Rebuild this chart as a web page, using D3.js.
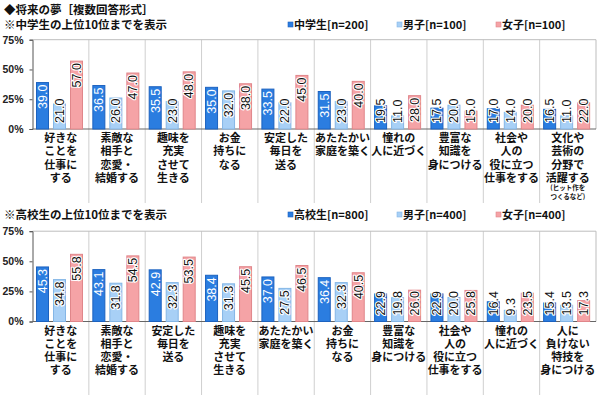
<!DOCTYPE html>
<html><head><meta charset="utf-8">
<script src="https://cdn.jsdelivr.net/npm/d3@7/dist/d3.min.js"></script>
<style>
body{margin:0;background:#fff;}
svg{display:block;}
</style></head>
<body><svg id="c" width="600" height="395"></svg>
<script>
const title = "◆将来の夢［複数回答形式］";
const subtitleJH = "※中学生の上位10位までを表示";
const subtitleHS = "※高校生の上位10位までを表示";
const ticks = [0, 25, 50, 75];
const seriesJH = ["中学生[n=200]", "男子[n=100]", "女子[n=100]"];
const seriesHS = ["高校生[n=800]", "男子[n=400]", "女子[n=400]"];
const colors = ["#2b7de0", "#a8d0f6", "#f5a3a6"];
const strokes = ["#1c62bf", "#84b6e6", "#e0868a"];

const catsJH = [
  ["好きな","ことを","仕事に","する"],
  ["素敵な","相手と","恋愛・","結婚する"],
  ["趣味を","充実","させて","生きる"],
  ["お金","持ちに","なる"],
  ["安定した","毎日を","送る"],
  ["あたたかい","家庭を築く"],
  ["憧れの","人に近づく"],
  ["豊富な","知識を","身につける"],
  ["社会や","人の","役に立つ","仕事をする"],
  ["文化や","芸術の","分野で","活躍する"]
];
const notesJH = [null,null,null,null,null,null,null,null,null,["(ヒット作を","つくるなど)"]];
const allJH   = [39.0, 36.5, 35.5, 35.0, 33.5, 31.5, 19.5, 17.5, 17.0, 16.5];
const boysJH  = [21.0, 26.0, 23.0, 32.0, 22.0, 23.0, 11.0, 20.0, 14.0, 11.0];
const girlsJH = [57.0, 47.0, 48.0, 38.0, 45.0, 40.0, 28.0, 15.0, 20.0, 22.0];

const catsHS = [
  ["好きな","ことを","仕事に","する"],
  ["素敵な","相手と","恋愛・","結婚する"],
  ["安定した","毎日を","送る"],
  ["趣味を","充実","させて","生きる"],
  ["あたたかい","家庭を築く"],
  ["お金","持ちに","なる"],
  ["豊富な","知識を","身につける"],
  ["社会や","人の","役に立つ","仕事をする"],
  ["憧れの","人に近づく"],
  ["人に","負けない","特技を","身につける"]
];
const notesHS = [null,null,null,null,null,null,null,null,null,null];
const allHS   = [45.3, 43.1, 42.9, 38.4, 37.0, 36.4, 22.9, 22.9, 16.4, 15.4];
const boysHS  = [34.8, 31.8, 32.3, 31.3, 27.5, 32.3, 19.8, 20.0, 9.3, 13.5];
const girlsHS = [55.8, 54.5, 53.5, 45.5, 46.5, 40.5, 26.0, 25.8, 23.5, 17.3];

const svg = d3.select("#c");
const jp = "'Noto Sans CJK JP', 'Noto Sans', sans-serif";
const num = "'Liberation Sans', Arial, sans-serif";

svg.append("text").attr("x",4).attr("y",14).attr("font-family",jp).attr("font-weight","bold")
  .attr("font-size",11.5).attr("fill","#111").text(title);

function drawChart(opt){
  const g = svg.append("g");
  const x = d3.scaleBand().domain(d3.range(opt.cats.length)).range([32.5, 596]).padding(0);
  const y = d3.scaleLinear().domain([0,75]).range([opt.base, opt.top]);
  const inner = d3.scaleBand().domain([0,1,2]).range([3.5, 50.5]).paddingInner(0.235);

  g.append("text").attr("x",4).attr("y",opt.subY+4).attr("font-family",jp).attr("font-weight","bold")
    .attr("font-size",11.5).attr("fill","#111").text(opt.subtitle);

  const lx = [288, 397, 496];
  opt.series.forEach((s,i)=>{
    g.append("rect").attr("x",lx[i]).attr("y",opt.subY-3).attr("width",5).attr("height",5)
      .attr("fill",colors[i]).attr("stroke",strokes[i]).attr("stroke-width",0.6);
    g.append("text").attr("x",lx[i]+6).attr("y",opt.subY+4).attr("font-family",jp).attr("font-weight","bold")
      .attr("font-size",11).attr("fill","#111").text(s);
  });

  d3.range(1, opt.cats.length).forEach(i=>{
    g.append("line").attr("x1",x(i)).attr("x2",x(i)).attr("y1",opt.top).attr("y2",opt.sepEnd)
      .attr("stroke","#cfcfcf").attr("stroke-width",1);
  });
  g.append("line").attr("x1",32.5).attr("x2",596).attr("y1",opt.top).attr("y2",opt.top).attr("stroke","#bdbdbd");
  g.append("line").attr("x1",596).attr("x2",596).attr("y1",opt.top).attr("y2",opt.base).attr("stroke","#bdbdbd");

  const ax = g.append("g").attr("transform","translate(32.5,0)")
    .call(d3.axisLeft(y).tickValues(ticks).tickSize(3).tickFormat(d=>d+"%"));
  ax.select(".domain").attr("stroke","#555");
  ax.selectAll(".tick line").attr("stroke","#555");
  ax.selectAll(".tick text").attr("font-family",num).attr("font-weight","bold").attr("font-size",10.5)
    .attr("fill","#222").attr("x",-9);
  g.append("line").attr("x1",32.5).attr("x2",596).attr("y1",opt.base).attr("y2",opt.base).attr("stroke","#666");

  const vals = [opt.a, opt.b, opt.c];
  vals.forEach((arr, si)=>{
    arr.forEach((v, ci)=>{
      const bx = x(ci) + inner(si);
      const bw = inner.bandwidth();
      g.append("rect").attr("x",bx+0.5).attr("y",y(v)).attr("width",bw-1).attr("height",opt.base-y(v))
        .attr("fill",colors[si]).attr("stroke",strokes[si]).attr("stroke-width",1);
    });
  });
  vals.forEach((arr, si)=>{
    arr.forEach((v, ci)=>{
      const bx = x(ci) + inner(si) + inner.bandwidth()/2;
      const t = g.append("text").attr("font-family",num).attr("font-size",12.5)
        .attr("text-anchor","start").text(v.toFixed(1));
      const len = t.node().getComputedTextLength();
      let topY = y(v) + 2;
      const fits = topY + len <= opt.base - 6;
      if(!fits) topY = opt.base - 6 - len;
      const white = (si===0 && fits);
      t.attr("transform",`translate(${bx+4.3},${topY+len}) rotate(-90)`)
        .attr("fill", white ? "#fff" : "#111")
        .attr("stroke", white ? "none" : "#fff").attr("stroke-width",2.2)
        .attr("paint-order","stroke").attr("stroke-linejoin","round");
    });
  });

  opt.cats.forEach((lines, ci)=>{
    const cx = x(ci) + x.bandwidth()/2;
    const t = g.append("text").attr("text-anchor","middle")
      .attr("font-family",jp).attr("font-weight","bold").attr("font-size",11).attr("fill","#111");
    lines.forEach((ln, li)=>{
      t.append("tspan").attr("x",cx).attr("y",opt.base+9+li*13.3+4).text(ln);
    });
    const note = opt.notes[ci];
    if(note){
      note.forEach((ln, li)=>{
        t.append("tspan").attr("x",cx).attr("y",opt.base+9+(lines.length-1)*13.3+10+li*8.7+2.5)
          .attr("font-size",6.5).text(ln);
      });
    }
  });
}

drawChart({cats:catsJH, notes:notesJH, a:allJH, b:boysJH, c:girlsJH, series:seriesJH,
  subtitle:subtitleJH, subY:25, top:39.7, base:129, sepEnd:203});
drawChart({cats:catsHS, notes:notesHS, a:allHS, b:boysHS, c:girlsHS, series:seriesHS,
  subtitle:subtitleHS, subY:215, top:231.2, base:321.5, sepEnd:395});
</script></body></html>
